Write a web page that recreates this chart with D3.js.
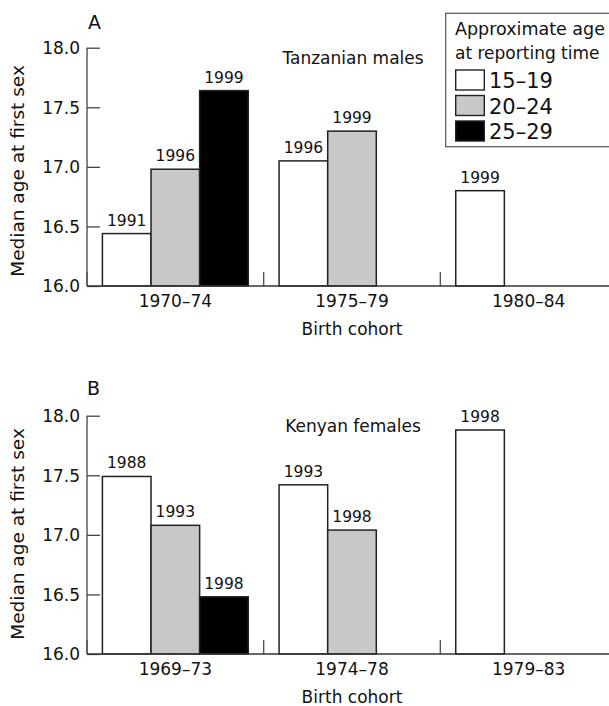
<!DOCTYPE html>
<html>
<head>
<meta charset="utf-8">
<script src="https://cdn.jsdelivr.net/npm/d3@7"></script>
<style>
  html, body { margin: 0; padding: 0; background: #fff; }
  svg { display: block; font-family: "DejaVu Sans", sans-serif; }
</style>
</head>
<body>
<svg id="chart" width="609" height="706"></svg>
<script>
// ---- Data ----
const seriesNames = ["15–19", "20–24", "25–29"];
const seriesColors = ["#ffffff", "#c8c8c8", "#000000"];

const catsA = ["1970–74", "1975–79", "1980–84"];
const valsA_15 = [16.44, 17.05, 16.80];
const valsA_20 = [16.98, 17.30, null];
const valsA_25 = [17.64, null, null];
const yearsA_15 = ["1991", "1996", "1999"];
const yearsA_20 = ["1996", "1999", null];
const yearsA_25 = ["1999", null, null];

const catsB = ["1969–73", "1974–78", "1979–83"];
const valsB_15 = [17.49, 17.42, 17.88];
const valsB_20 = [17.08, 17.04, null];
const valsB_25 = [16.48, null, null];
const yearsB_15 = ["1988", "1993", "1998"];
const yearsB_20 = ["1993", "1998", null];
const yearsB_25 = ["1998", null, null];

const yTicks = [16.0, 16.5, 17.0, 17.5, 18.0];
const yDomain = [16, 18];

const svg = d3.select("#chart");

function buildRows(cats, vals, years) {
  const rows = [];
  cats.forEach((c, i) => {
    vals.forEach((v, s) => {
      if (v[i] != null) rows.push({cat: c, series: s, value: v[i], year: years[s][i]});
    });
  });
  return rows;
}

function drawPanel(opts) {
  const g = svg.append("g");
  const x = d3.scaleBand().domain(opts.cats).range([87, 617]).paddingInner(0).paddingOuter(0);
  const xs = d3.scaleBand().domain([0, 1, 2]).range([0, x.bandwidth()]).paddingInner(0).paddingOuter(0.317);
  const y = d3.scaleLinear().domain(yDomain).range(opts.yRange);
  const base = y(16);

  // Y axis (ticks pointing inward)
  const yAxis = d3.axisRight(y).tickValues(yTicks).tickSize(13).tickFormat("");
  const ya = g.append("g").attr("transform", "translate(87,0)").call(yAxis);
  ya.select(".domain").attr("stroke", "#444").attr("stroke-width", 1.3).attr("d", `M0,${y(18)}V${y(16)}`);
  ya.selectAll(".tick line").attr("stroke", "#444").attr("stroke-width", 1.3);

  // tick labels
  g.selectAll(".ylab").data(yTicks).enter().append("text")
    .attr("x", 80).attr("y", d => y(d) + 6.3)
    .attr("text-anchor", "end").attr("font-size", 17).attr("fill", "#111")
    .text(d => d.toFixed(1));

  // bars
  const rows = buildRows(opts.cats, opts.vals, opts.years);
  g.selectAll(".bar").data(rows).enter().append("rect")
    .attr("x", d => x(d.cat) + xs(d.series))
    .attr("y", d => y(d.value))
    .attr("width", xs.bandwidth())
    .attr("height", d => base - y(d.value))
    .attr("fill", d => seriesColors[d.series])
    .attr("stroke", "#222").attr("stroke-width", 1.5);

  g.selectAll(".blab").data(rows).enter().append("text")
    .attr("x", d => x(d.cat) + xs(d.series) + xs.bandwidth() / 2)
    .attr("y", d => y(d.value) - 8)
    .attr("text-anchor", "middle").attr("font-size", 15.5).attr("fill", "#111")
    .text(d => d.year);

  // category separators
  g.selectAll(".sep").data(opts.cats).enter().append("line")
    .attr("x1", d => x(d)).attr("x2", d => x(d))
    .attr("y1", base).attr("y2", base - 14)
    .attr("stroke", "#555").attr("stroke-width", 1.4);

  // baseline
  g.append("line").attr("x1", 87).attr("x2", 617).attr("y1", base).attr("y2", base)
    .attr("stroke", "#333").attr("stroke-width", 1.5);

  // category labels
  g.selectAll(".clab").data(opts.cats).enter().append("text")
    .attr("x", d => x(d) + x.bandwidth() / 2)
    .attr("y", base + 20.5)
    .attr("text-anchor", "middle").attr("font-size", 17).attr("fill", "#111")
    .text(d => d);

  g.append("text").attr("x", 352).attr("y", base + 49)
    .attr("text-anchor", "middle").attr("font-size", 17).attr("fill", "#111")
    .text("Birth cohort");

  g.append("text")
    .attr("transform", `translate(24,${opts.yTitleCenter}) rotate(-90)`)
    .attr("text-anchor", "middle").attr("font-size", 18.5).attr("fill", "#111")
    .text("Median age at first sex");

  g.append("text").attr("x", opts.letterX).attr("y", opts.letterY)
    .attr("text-anchor", "middle").attr("font-size", 19).attr("fill", "#111")
    .text(opts.letter);

  g.append("text").attr("x", 353).attr("y", opts.titleY)
    .attr("text-anchor", "middle").attr("font-size", 17).attr("fill", "#111")
    .text(opts.title);
}

drawPanel({
  cats: catsA, vals: [valsA_15, valsA_20, valsA_25], years: [yearsA_15, yearsA_20, yearsA_25],
  yRange: [286, 47.7], yTitleCenter: 171, letter: "A", letterX: 94.5, letterY: 29,
  title: "Tanzanian males", titleY: 64
});
drawPanel({
  cats: catsB, vals: [valsB_15, valsB_20, valsB_25], years: [yearsB_15, yearsB_20, yearsB_25],
  yRange: [654, 415.7], yTitleCenter: 534, letter: "B", letterX: 93.5, letterY: 395,
  title: "Kenyan females", titleY: 432
});

// Legend
const lg = svg.append("g");
lg.append("rect").attr("x", 445.7).attr("y", 13.3).attr("width", 200).attr("height", 133.4)
  .attr("fill", "#fff").attr("stroke", "#555").attr("stroke-width", 1.2);
lg.append("text").attr("x", 455).attr("y", 35).attr("font-size", 17.5).attr("fill", "#111").text("Approximate age");
lg.append("text").attr("x", 455).attr("y", 58.5).attr("font-size", 17).attr("fill", "#111").text("at reporting time");
const ly = d3.scaleBand().domain(seriesNames).range([67.5, 144]).paddingInner(0).paddingOuter(0);
lg.selectAll(".sw").data(seriesNames).enter().append("rect")
  .attr("x", 455.7).attr("y", d => ly(d) + 2.5).attr("width", 28.6).attr("height", 20)
  .attr("fill", (d, i) => seriesColors[i]).attr("stroke", "#222").attr("stroke-width", 1.4);
lg.selectAll(".sl").data(seriesNames).enter().append("text")
  .attr("x", 489).attr("y", d => ly(d) + 2.5 + 18)
  .attr("font-size", 21).attr("fill", "#111").text(d => d);
</script>
</body>
</html>
